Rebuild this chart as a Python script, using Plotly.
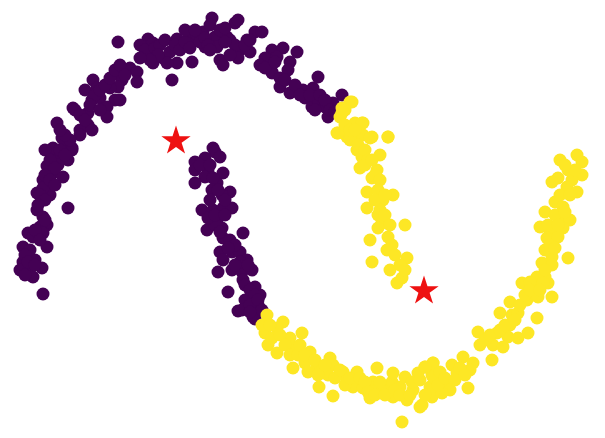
import plotly.graph_objects as go

# Cluster 0 (purple) points (x, y in picture units, y downward)
purple_x = [118,148,153,177,192,197,147,153,163,170,177,167,192,172,130,137,137,117,122,118,110,93,85,97,92,100,115,107,120,107,88,73,88,80,57,92,62,67,53,72,
            65,53,72,60,68,47,58,53,63,43,48,37,50,43,68,37,43,47,40,28,43,33,23,47,23,35,20,30,42,33,43,
            212,235,238,203,215,227,255,262,247,205,217,220,223,240,238,250,272,283,297,265,277,272,290,288,272,280,290,303,313,318,305,312,318,325,333,328,342,213,
            215,220,205,195,195,208,223,205,217,195,230,222,202,213,223,232,217,207,222,215,243,223,220,232,240,223,247,232,218,242,252,243,255,228,260,245,257,238,253,
            258,242,255,
            45,50,55,60,65,45,50,55,40,45,38,45,35,40,30,25,28,35,25,
            75,80,85,95,100,105,110,115,120,125,90,100,80,70,65,60,
            140,145,155,160,165,175,180,185,190,200,205,208,185,195,158,150,140,
            210,220,225,230,235,245,250,210,230,225,
            260,265,275,280,285,295,300,310,320,325,330,315,335,
            200,210,213,212,218,225,210,208,215,225,220,230,235,228,240,235,248,245,250,255,250,258,262,250]
purple_y = [42,39,43,39,38,35,53,63,58,52,63,63,62,80,68,72,82,73,80,87,88,80,90,88,100,98,100,107,100,117,113,108,125,130,123,130,138,143,148,148,
            143,150,150,157,160,166,165,173,177,180,183,193,195,188,208,210,217,225,227,233,233,237,247,247,262,260,270,268,268,277,294,
            18,23,20,32,37,37,32,32,40,47,47,60,65,50,58,52,50,48,52,58,57,72,62,70,73,87,93,90,88,77,98,107,100,107,103,117,95,148,
            152,157,158,162,170,172,173,177,183,183,192,195,210,210,208,208,220,230,228,225,233,238,252,252,252,260,260,270,272,272,270,280,287,292,295,300,303,311,317,
            305,310,319,
            150,160,168,150,155,175,180,185,195,200,205,220,230,240,250,255,262,265,275,
            110,115,120,95,90,85,78,70,65,75,105,110,135,140,135,130,
            45,50,48,45,40,45,50,42,48,42,38,45,30,30,55,60,58,
            25,30,28,40,45,45,40,50,55,42,
            65,68,62,78,80,85,95,95,95,100,110,110,112,
            165,165,178,190,190,200,200,218,215,215,232,240,245,248,262,265,265,285,290,295,305,300,310,312]

# Cluster 1 (yellow) points
yellow_x = [350,342,340,337,347,355,363,357,372,388,
            352,342,338,362,350,363,370,388,357,362,380,360,377,372,367,393,383,367,380,382,405,370,388,387,407,372,390,402,397,
            267,283,265,277,268,277,290,302,293,310,293,305,308,317,330,333,320,328,343,347,357,353,319,333,363,370,373,377,377,387,392,393,393,400,405,407,413,418,420,402,425,433,432,430,432,
            522,537,548,527,538,552,510,500,512,518,510,537,528,478,497,508,518,480,493,503,492,463,473,452,433,425,457,470,433,447,432,450,468,442,422,
            577,582,560,568,582,558,552,567,577,555,563,545,562,570,540,550,563,547,558,568,552,542,552,537,545,530,543,
            345,345,350,355,358,365,368,365,372,375,380,378,375,385,378,385,390,378,392,395,400,405,
            262,270,272,280,285,290,298,300,305,315,318,325,335,340,345,350,360,365,368,375,380,385,395,400,410,412,420,425,438,440,445,455,460,465,
            485,490,500,505,515,520,525,530,540,545,545,550,555,548,555,558,565,560,570,572,575,565]
yellow_y = [102,108,117,133,137,123,123,140,137,137,
            102,113,133,123,140,135,138,137,150,157,155,168,170,178,192,195,200,208,210,223,225,240,237,250,258,262,270,278,283,
            315,322,333,328,345,353,338,333,347,352,368,363,372,365,358,365,372,375,372,380,372,387,387,396,388,398,382,368,390,388,382,373,397,387,377,400,390,373,407,422,367,363,375,387,397,
            283,285,283,300,297,297,302,313,315,313,325,318,333,332,333,337,338,345,345,347,360,357,363,365,363,367,373,370,377,383,390,390,388,393,405,
            155,162,160,170,175,178,182,187,192,202,207,212,218,220,227,232,228,238,237,258,257,263,265,277,277,282,283,
            110,125,130,130,145,150,160,165,160,175,180,190,200,195,215,215,225,228,245,255,265,270,
            325,325,338,335,345,355,355,345,355,360,375,365,378,370,385,378,378,382,392,395,382,395,390,395,395,382,380,395,385,372,378,380,368,375,
            340,335,330,325,320,305,295,290,290,270,250,245,248,225,215,225,212,195,195,180,170,165]

# Cluster centres (stars)
center_x = [176, 424]
center_y = [141, 291]

fig = go.Figure()
fig.add_trace(go.Scatter(x=purple_x, y=purple_y, mode="markers",
                         marker=dict(size=13, color="#440154", line=dict(width=0)),
                         showlegend=False, hoverinfo="skip"))
fig.add_trace(go.Scatter(x=yellow_x, y=yellow_y, mode="markers",
                         marker=dict(size=13, color="#fde725", line=dict(width=0)),
                         showlegend=False, hoverinfo="skip"))
fig.add_trace(go.Scatter(x=center_x, y=center_y, mode="markers",
                         marker=dict(size=22, color="#ee1111", symbol="star", line=dict(width=0)),
                         showlegend=False, hoverinfo="skip"))

fig.update_layout(
    width=605, height=438,
    margin=dict(l=0, r=0, t=0, b=0),
    paper_bgcolor="white", plot_bgcolor="white",
    xaxis=dict(range=[0, 605], visible=False, showgrid=False, zeroline=False),
    yaxis=dict(range=[438, 0], visible=False, showgrid=False, zeroline=False),
)
fig.write_html("out.html")
